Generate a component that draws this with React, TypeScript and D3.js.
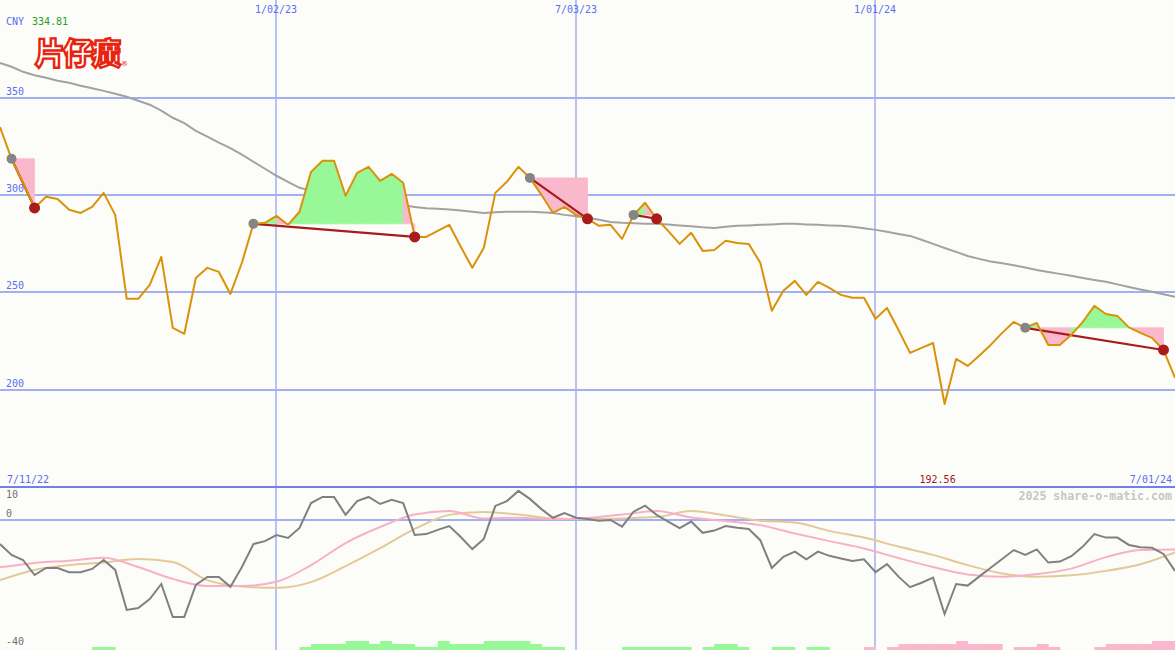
import React from "react";
import * as d3 from "d3";

const W = 1175;
const H = 650;

// weekly closing prices (first point 18 Jul 2022, last 1 Jul 2024)
const prices = [334.81, 318.5, 306.2, 293.3, 299.0, 297.9, 292.3, 290.7, 293.8, 301.0,
  289.7, 246.6, 246.6, 253.8, 268.1, 231.7, 228.6, 257.3, 262.5, 260.4,
  249.1, 265.1, 285.1, 285.6, 289.2, 284.6, 291.3, 311.8, 317.5, 317.5,
  299.5, 311.3, 314.4, 307.2, 310.8, 306.2, 278.4, 278.4, 281.5, 284.6,
  273.3, 262.5, 272.8, 301.0, 306.7, 314.4, 308.7, 300.0, 290.7, 293.8,
  289.7, 287.7, 284.1, 284.6, 277.4, 289.7, 295.9, 287.7, 281.5, 274.8,
  280.5, 271.2, 271.7, 276.4, 275.3, 274.8, 265.1, 240.4, 250.7, 255.8,
  248.6, 255.3, 252.2, 248.6, 247.1, 247.1, 236.3, 241.9, 230.6, 218.8,
  221.4, 223.9, 192.56, 215.7, 212.1, 217.3, 222.9, 229.1, 234.7, 231.7,
  234.2, 222.9, 222.9, 228.1, 234.7, 243.0, 238.8, 237.8, 231.9, 229.1,
  226.5, 220.3, 206.0];

// long-term moving average
const movingAvg = [367.8, 365.8, 363.2, 361.4, 360.1, 358.6, 357.6, 356.0, 354.7, 353.4,
  351.9, 350.4, 348.3, 346.3, 343.2, 339.6, 336.8, 332.9, 329.9, 326.8,
  324.0, 320.6, 317.0, 313.4, 309.8, 306.7, 303.6, 302.3, 301.0, 299.7,
  298.5, 297.4, 296.4, 295.9, 295.1, 294.6, 293.8, 293.1, 292.8, 292.5,
  292.0, 291.3, 290.7, 291.0, 291.3, 291.3, 291.3, 291.0, 290.7, 289.7,
  289.0, 288.2, 287.2, 286.1, 285.6, 285.4, 285.1, 285.1, 284.8, 284.3,
  283.8, 283.3, 283.0, 283.6, 284.1, 284.3, 284.6, 284.8, 285.1, 285.1,
  284.8, 284.6, 284.3, 284.1, 283.6, 282.8, 282.0, 281.0, 279.9, 278.9,
  276.9, 274.8, 272.7, 270.7, 268.6, 267.1, 265.8, 264.8, 263.8, 262.7,
  261.4, 260.4, 259.4, 258.4, 257.3, 256.3, 255.3, 254.0, 252.7, 251.4,
  250.2, 248.9, 247.6];

// lower panel oscillator
const oscillator = [-7.5, -10.9, -12.5, -17.2, -15.0, -15.0, -16.3, -16.3, -15.3, -12.5,
  -15.6, -28.1, -27.5, -24.7, -20.0, -30.3, -30.3, -20.3, -17.8, -17.8,
  -20.9, -14.7, -7.5, -6.6, -4.7, -5.6, -2.5, 5.3, 7.2, 7.2,
  1.6, 5.9, 7.2, 5.0, 6.3, 5.3, -4.7, -4.4, -3.1, -1.9,
  -5.3, -9.1, -5.9, 4.4, 5.9, 9.1, 6.6, 3.4, 0.7, 2.2,
  0.7, 0.3, -0.2, 0.0, -2.1, 2.6, 4.5, 1.6, -0.5, -2.5,
  -0.5, -4.0, -3.3, -1.9, -2.4, -2.8, -6.3, -15.0, -11.5, -9.9,
  -12.3, -9.9, -11.2, -12.0, -12.8, -12.3, -16.3, -13.8, -17.7, -21.0,
  -19.6, -18.0, -29.4, -20.0, -20.5, -17.7, -14.9, -12.2, -9.4, -10.9,
  -9.2, -13.3, -13.0, -11.3, -8.3, -4.4, -5.5, -5.5, -7.8, -8.5,
  -8.7, -10.6, -15.9];

// smoothed signal lines, read every third week
const pinkSignal = [-14.8, -13.4, -12.7, -11.8, -14.7, -18.4, -20.6, -20.6, -19.3, -14.1,
  -7.2, -2.2, 1.7, 2.8, 0.5, 0.7, 0.2, 0.6, 1.7, 2.8,
  0.8, -0.3, -1.6, -4.2, -6.6, -8.9, -11.9, -14.7, -17.0, -17.7,
  -16.9, -15.2, -11.6, -9.4, -9.2];
const tanSignal = [-18.8, -15.6, -14.1, -13.3, -12.2, -13.1, -18.8, -20.8, -21.2, -19.4,
  -14.4, -8.8, -2.8, 1.6, 2.5, 1.7, 0.5, 0.3, 0.5, 0.9,
  2.8, 1.4, -0.2, -0.8, -3.4, -5.5, -8.3, -10.9, -14.1, -16.7,
  -17.7, -17.3, -15.9, -13.8, -10.1];

// histogram levels at the bottom (positive = green, negative = pink)
const histogram = [0, 0, 0, 0, 0, 0, 0, 0, 1, 1,
  0, 0, 0, 0, 0, 0, 0, 0, 0, 0,
  0, 0, 0, 0, 0, 0, 1, 2, 2, 2,
  3, 3, 2, 3, 2, 2, 1, 1, 3, 2,
  2, 2, 3, 3, 3, 3, 2, 1, 1, 0,
  0, 0, 0, 0, 1, 1, 1, 1, 1, 1,
  0, 1, 2, 2, 1, 0, 0, 1, 1, 0,
  1, 1, 0, 0, 0, -1, 0, -1, -2, -2,
  -2, -2, -2, -3, -2, -2, -2, 0, -1, -1,
  -2, -1, 0, 0, 0, -1, -2, -2, -2, -2,
  -3, -3, 0];

// pattern markers (start week index, end week index)
const patternStarts = [1, 22, 46, 55, 89];
const patternEnds = [3, 36, 51, 57, 101];

const priceTicks = [350, 300, 250, 200];
const gridDates = ["2023-01-02", "2023-07-03", "2024-01-01"];
const gridLabels = ["1/02/23", "7/03/23", "1/01/24"];
const firstLabel = "7/11/22";
const lastLabel = "7/01/24";

const startDate = new Date(Date.UTC(2022, 6, 18));
const endDate = new Date(Date.UTC(2024, 6, 1));
const dates = prices.map((_, i) => d3.utcDay.offset(startDate, 7 * i));
const smoothIdx = d3.range(0, 103, 3);

const FONT = "'DejaVu Sans Mono', monospace";
const GRID = "#a4aef2";

export default function App() {
  const x = d3.scaleUtc().domain([startDate, endDate]).range([0, W]);
  const y = d3.scaleLinear().domain([200, 350]).range([389.5, 97.5]);
  const yo = d3.scaleLinear().domain([-40, 10]).range([648, 488]);
  const yh = d3.scaleLinear().domain([0, 3]).range([650, 641]);

  const line = d3.line<number>().x((_, i) => x(dates[i])).y((d) => y(d));
  const oscLine = d3.line<number>().x((_, i) => x(dates[i])).y((d) => yo(d));
  const sigLine = d3.line<number>().x((_, i) => x(dates[smoothIdx[i]])).y((d) => yo(d)).curve(d3.curveMonotoneX);

  const maxP = d3.max(prices)!;
  const minP = d3.min(prices)!;
  const minIdx = prices.indexOf(minP);
  const step = x(dates[1]) - x(dates[0]);

  // fills between price and start level per segment
  const fills: { d: string; color: string }[] = [];
  patternStarts.forEach((s, k) => {
    const e = patternEnds[k];
    const level = prices[s];
    for (let j = s; j < e; j++) {
      const area = d3.area<number>()
        .x((_, t) => x(dates[j + t]))
        .y0(y(level))
        .y1((d) => y(d));
      fills.push({
        d: area([prices[j], prices[j + 1]])!,
        color: prices[j + 1] >= level ? "#98f898" : "#fab8cc",
      });
    }
  });

  return (
    <svg width={W} height={H} style={{ position: "absolute", left: 0, top: 0, background: "#fcfdf9" }}>
      <rect x={0} y={0} width={W} height={H} fill="#fcfdf9" />
      {/* vertical grid */}
      {gridDates.map((g, i) => {
        const gx = Math.round(x(new Date(g + "T00:00:00Z")));
        return (
          <g key={g}>
            <line x1={gx} x2={gx} y1={0} y2={H} stroke={GRID} strokeWidth={1.5} />
            <text x={gx} y={13} textAnchor="middle" fontFamily={FONT} fontSize={10} fill="#5a6ef2">{gridLabels[i]}</text>
          </g>
        );
      })}
      {/* horizontal grid */}
      {priceTicks.map((p) => (
        <g key={p}>
          <line x1={0} x2={W} y1={Math.round(y(p))} y2={Math.round(y(p))} stroke={GRID} strokeWidth={2} />
          <text x={6} y={Math.round(y(p)) - 3} fontFamily={FONT} fontSize={10} fill="#5a6ef2">{p}</text>
        </g>
      ))}

      {/* header */}
      <text x={6} y={25} fontFamily={FONT} fontSize={10} fill="#5a6ef2">CNY</text>
      <text x={32} y={25} fontFamily={FONT} fontSize={10} fill="#22a022">{maxP.toFixed(2)}</text>
      <text x={35} y={64} fontFamily="'Noto Sans CJK SC', sans-serif" fontWeight={900} fontSize={30} fill="#ffffff" stroke="#e8240f" strokeWidth={2.4} letterSpacing={-2}>片仔癀</text>
      <text x={121} y={66} fontFamily="'DejaVu Sans', sans-serif" fontSize={7} fill="#e8240f">®</text>

      {/* moving average */}
      <path d={line(movingAvg)!} fill="none" stroke="#a2a2a2" strokeWidth={2} />

      {/* pattern fills */}
      {fills.map((f, i) => (
        <path key={i} d={f.d} fill={f.color} stroke={f.color} strokeWidth={0.8} />
      ))}

      {/* trend lines */}
      {patternStarts.map((s, k) => (
        <line key={k} x1={x(dates[s])} y1={y(prices[s])} x2={x(dates[patternEnds[k]])} y2={y(prices[patternEnds[k]])} stroke="#a41c1c" strokeWidth={2.2} />
      ))}

      {/* price */}
      <path d={line(prices)!} fill="none" stroke="#d9920a" strokeWidth={2} strokeLinejoin="round" />

      {/* markers */}
      {patternStarts.map((s, k) => (
        <g key={k}>
          <circle cx={x(dates[s])} cy={y(prices[s])} r={5} fill="#858585" />
          <circle cx={x(dates[patternEnds[k]])} cy={y(prices[patternEnds[k]])} r={5.5} fill="#a81c1c" />
        </g>
      ))}

      {/* bottom labels of price panel */}
      <text x={7} y={483} fontFamily={FONT} fontSize={10} fill="#5a6ef2">{firstLabel}</text>
      <text x={x(dates[minIdx]) - 7} y={483} textAnchor="middle" fontFamily={FONT} fontSize={10} fill="#a01818">{minP.toFixed(2)}</text>
      <text x={1172} y={483} textAnchor="end" fontFamily={FONT} fontSize={10} fill="#5a6ef2">{lastLabel}</text>

      {/* separator */}
      <line x1={0} x2={W} y1={487} y2={487} stroke="#7080e8" strokeWidth={2} />

      {/* lower panel */}
      <line x1={0} x2={W} y1={Math.round(yo(0))} y2={Math.round(yo(0))} stroke={GRID} strokeWidth={2} />
      <text x={6} y={498} fontFamily={FONT} fontSize={10} fill="#707070">10</text>
      <text x={6} y={517} fontFamily={FONT} fontSize={10} fill="#707070">0</text>
      <text x={6} y={645} fontFamily={FONT} fontSize={10} fill="#707070">-40</text>
      <text x={1172} y={500} textAnchor="end" fontFamily={FONT} fontWeight="bold" fontSize={11.6} fill="#c6c6c6">2025 share-o-matic.com</text>

      {histogram.map((h, i) =>
        h === 0 ? null : (
          <rect key={i} x={x(dates[i])} width={step + 0.5} y={yh(Math.abs(h))} height={650 - yh(Math.abs(h))} fill={h > 0 ? "#98f898" : "#fab8cc"} />
        )
      )}

      <path d={sigLine(tanSignal)!} fill="none" stroke="#e5c898" strokeWidth={2} />
      <path d={sigLine(pinkSignal)!} fill="none" stroke="#f8b0c6" strokeWidth={2} />
      <path d={oscLine(oscillator)!} fill="none" stroke="#808080" strokeWidth={2} />
    </svg>
  );
}
